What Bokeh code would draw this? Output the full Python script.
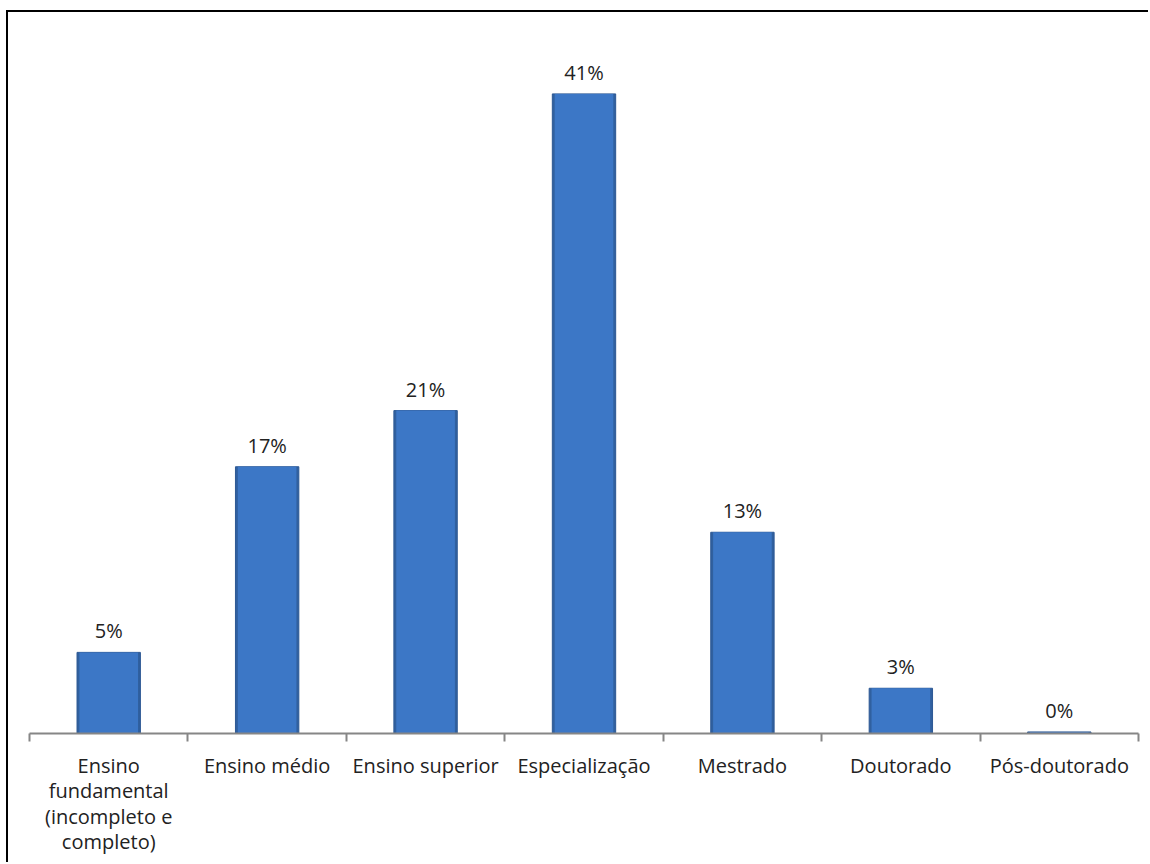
from bokeh.plotting import figure
from bokeh.models import ColumnDataSource, FixedTicker, Range1d
from bokeh.embed import file_html
from bokeh.resources import INLINE
from bokeh.core.properties import value

categories = [
    "Ensino\nfundamental\n(incompleto e\ncompleto)",
    "Ensino médio",
    "Ensino superior",
    "Especialização",
    "Mestrado",
    "Doutorado",
    "Pós-doutorado",
]
values = [5.2, 17.1, 20.7, 41.0, 12.9, 2.9, 0.1]
labels = ["5%", "17%", "21%", "41%", "13%", "3%", "0%"]

xs = [i + 0.5 for i in range(len(categories))]
src = ColumnDataSource(dict(x=xs, top=values, label=labels))

FONT = "Open Sans"

p = figure(width=1142, height=852, output_backend="svg", toolbar_location=None,
           x_range=Range1d(0, len(categories)), y_range=Range1d(0, 45),
           y_axis_location=None, min_border_left=21, min_border_right=12,
           min_border_top=19, min_border_bottom=131)
p.styles = {"border-left": "2px solid black", "border-top": "2px solid black",
            "margin-left": "6px", "margin-top": "10px"}
p.outline_line_color = None
p.xgrid.visible = False
p.ygrid.visible = False
p.background_fill_color = "white"
p.border_fill_color = "white"

# bars: darker outer body with a lighter inner body to hint the bevel
p.vbar(x="x", top="top", bottom=0, width=0.40, source=src,
       fill_color="#30609f", line_color="#2c5894", line_width=1)
p.vbar(x="x", top="top", bottom=0, width=0.37, source=src,
       fill_color="#3c77c6", line_color=None)

p.text(x="x", y="top", text="label", source=src, text_align="center",
       text_baseline="bottom", y_offset=-8, text_font=value(FONT),
       text_font_size="20px", text_color="#222222")

ax = p.xaxis[0]
ax.ticker = FixedTicker(ticks=xs, minor_ticks=list(range(len(categories) + 1)))
ax.major_label_overrides = {x: c for x, c in zip(xs, categories)}
ax.major_tick_out = 0
ax.major_tick_in = 0
ax.minor_tick_out = 8
ax.minor_tick_in = 0
ax.minor_tick_line_color = "#868686"
ax.axis_line_color = "#868686"
ax.axis_line_width = 2
ax.minor_tick_line_width = 2
ax.major_label_standoff = 10
ax.major_label_text_font = FONT
ax.major_label_text_font_size = "20px"
ax.major_label_text_color = "#222222"
ax.major_label_text_line_height = 0.95

open("out.html", "w").write(file_html(p, INLINE))
